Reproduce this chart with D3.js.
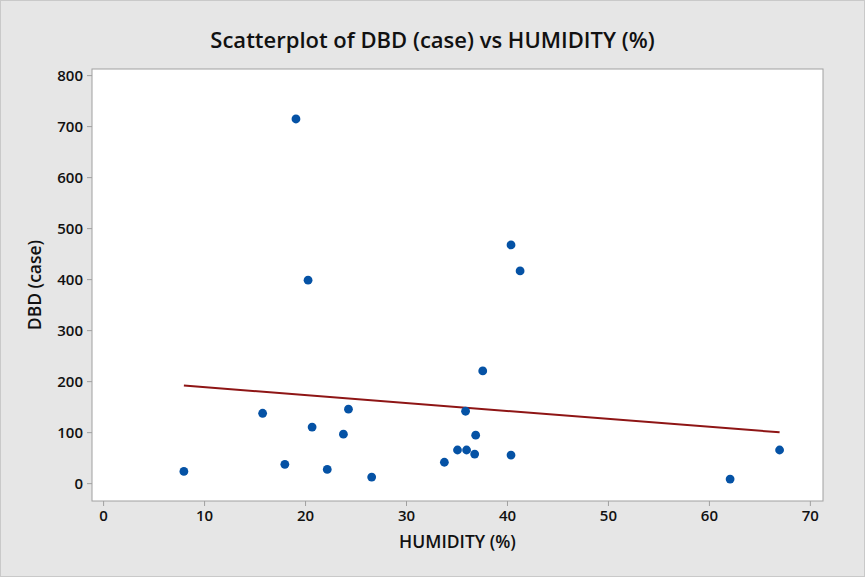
<!DOCTYPE html>
<html>
<head>
<meta charset="utf-8">
<script src="https://cdn.jsdelivr.net/npm/d3@7"></script>
<style>
  html, body { margin: 0; padding: 0; background: #e6e6e6; }
  svg { display: block; }
</style>
</head>
<body>
<div id="chart"></div>
<script>
'use strict';

// values
var humidity = [8, 15.8, 18, 19.1, 20.3, 20.7, 22.2, 23.8, 24.3, 26.6, 33.8,
                35.1, 36, 35.9, 36.8, 36.9, 37.6, 40.4, 40.4, 41.3, 62.1, 67];
var dbd = [23, 137, 37, 714, 398, 110, 27, 96, 145, 12, 41,
           65, 65, 141, 57, 94, 220, 55, 467, 416, 8, 65];
var xTicks = [0, 10, 20, 30, 40, 50, 60, 70];
var yTicks = [0, 100, 200, 300, 400, 500, 600, 700, 800];

var W = 865, H = 577;
var margin = {top: 69, right: 42, bottom: 76, left: 92};
var width = W - margin.left - margin.right,
    height = H - margin.top - margin.bottom;

var svg = d3.select("#chart").append("svg")
  .attr("width", W)
  .attr("height", H);

svg.append("rect")
  .attr("x", 0.5).attr("y", 0.5)
  .attr("width", W - 1).attr("height", H - 1)
  .attr("fill", "#e6e6e6")
  .attr("stroke", "#c9c9c9");

var g = svg.append("g").attr("transform", "translate(" + margin.left + "," + margin.top + ")");

var x = d3.scaleLinear().domain([-1.1, 71.3]).range([0, width]);
var y = d3.scaleLinear().domain([-35, 812]).range([height, 0]);

g.append("rect")
  .attr("width", width)
  .attr("height", height)
  .attr("fill", "#fff")
  .attr("stroke", "#a0a0a0");

function styleAxis(sel) {
  sel.select(".domain").remove();
  sel.selectAll(".tick line").attr("stroke", "#a0a0a0");
  sel.selectAll(".tick text")
    .attr("fill", "#111")
    .style("font", "600 15px 'Open Sans', sans-serif");
}

g.append("g")
  .attr("transform", "translate(0," + height + ")")
  .call(d3.axisBottom(x).tickValues(xTicks).tickSize(5).tickPadding(4))
  .call(styleAxis);

g.append("g")
  .call(d3.axisLeft(y).tickValues(yTicks).tickSize(5).tickPadding(4))
  .call(styleAxis)
  .selectAll(".tick text").attr("dy", "0.36em");

// least squares fit
var n = humidity.length;
var mx = d3.mean(humidity), my = d3.mean(dbd);
var sxy = 0, sxx = 0;
for (var i = 0; i < n; i++) {
  sxy += (humidity[i] - mx) * (dbd[i] - my);
  sxx += (humidity[i] - mx) * (humidity[i] - mx);
}
var slope = sxy / sxx, icpt = my - slope * mx;
var xr = d3.extent(humidity);

g.append("line")
  .attr("x1", x(xr[0])).attr("y1", y(icpt + slope * xr[0]))
  .attr("x2", x(xr[1])).attr("y2", y(icpt + slope * xr[1]))
  .attr("stroke", "#8e1515")
  .attr("stroke-width", 2);

g.selectAll(".pt")
  .data(d3.range(n))
  .enter().append("circle")
  .attr("class", "pt")
  .attr("cx", function(i) { return x(humidity[i]); })
  .attr("cy", function(i) { return y(dbd[i]); })
  .attr("r", 4.4)
  .attr("fill", "#0552a5");

svg.append("text")
  .attr("x", W / 2).attr("y", 48)
  .attr("text-anchor", "middle")
  .attr("fill", "#111")
  .style("font", "600 22px 'Open Sans', sans-serif")
  .text("Scatterplot of DBD (case) vs HUMIDITY (%)");

svg.append("text")
  .attr("x", margin.left + width / 2).attr("y", 548)
  .attr("text-anchor", "middle")
  .attr("fill", "#111")
  .style("font", "600 17.5px 'Open Sans', sans-serif")
  .text("HUMIDITY (%)");

svg.append("text")
  .attr("transform", "translate(41," + (margin.top + height / 2) + ") rotate(-90)")
  .attr("text-anchor", "middle")
  .attr("fill", "#111")
  .style("font", "600 17.5px 'Open Sans', sans-serif")
  .text("DBD (case)");
</script>
</body>
</html>
